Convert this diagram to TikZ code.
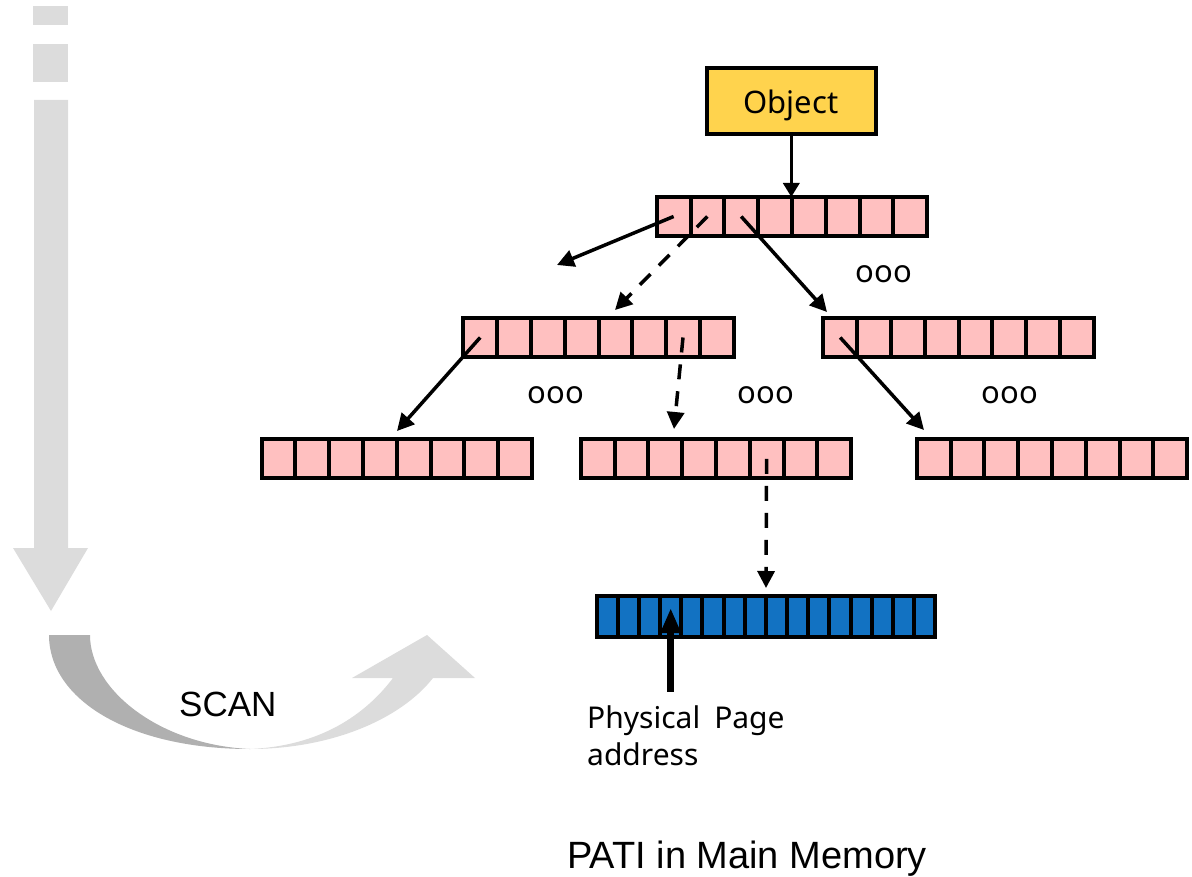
\documentclass[tikz,border=0pt]{standalone}
\usepackage{fontspec}
\newfontfamily\arialf{Liberation Sans}
\newfontfamily\gothf{Noto Sans}
\usetikzlibrary{arrows.meta}

\definecolor{cellpink}{HTML}{FFC0C0}
\definecolor{objyellow}{HTML}{FFD34D}
\definecolor{pageblue}{HTML}{1272C2}
\definecolor{scanlight}{HTML}{DCDCDC}
\definecolor{scandark}{HTML}{B0B0B0}

\tikzset{
  cell/.style={draw, line width=4pt, fill=cellpink, minimum width=33.8pt,
    minimum height=39pt, inner sep=0pt, outer sep=0pt},
  pagecell/.style={draw, line width=4pt, fill=pageblue, minimum width=21.15pt,
    minimum height=40.5pt, inner sep=0pt, outer sep=0pt},
  link/.style={line width=3.5pt, -{Triangle[length=17pt,width=17pt]}},
  dlink/.style={link, dash pattern=on 15pt off 12pt},
  dots/.style={font=\gothf\fontsize{31}{32}\selectfont, inner sep=0pt},
  label/.style={inner sep=0pt, anchor=base west},
}

% one table of eight entries: name prefix, left edge, vertical centre
\newcommand\pagetable[3]{%
  \foreach \i in {1,...,8}
    \node[cell] (#1\i) at ({#2+(\i-0.5)*33.8},#3) {};}

\begin{document}
\begin{tikzpicture}[x=1pt,y=-1pt]
\useasboundingbox (0,0) rectangle (1192,877);

% scan direction: dashed-in vertical arrow
\fill[scanlight] (33,6) rectangle (68,25);
\fill[scanlight] (33,44) rectangle (68,82);
\fill[scanlight] (34,100) -- (68,100) -- (68,548) -- (88,548) -- (51,611)
  -- (13,548) -- (34,548) -- cycle;

% curved return arrow
\fill[scandark] (49,635) -- (90,635) .. controls (90,690) and (160,745) .. (250,749)
  .. controls (130,749) and (49,700) .. (49,635) -- cycle;
\fill[scanlight] (250,749) .. controls (330,749) and (400,720) .. (433,678)
  -- (475,678) -- (427,635) -- (352,678) -- (393,678)
  .. controls (365,715) and (320,746) .. (250,749) -- cycle;
\node[label, font=\arialf\fontsize{35}{40}\selectfont] (scan) at (179,716) {SCAN};

% object and page tables
\node[draw, line width=4pt, fill=objyellow, minimum width=169pt, minimum height=65.5pt,
  inner sep=0pt] (obj) at (791.3,101.2) {};
\node[label, font=\gothf\fontsize{31}{34}\selectfont] (objtext) at (743.5,114) {Object};

\pagetable{top}{656.7}{216.5}
\pagetable{midl}{463.3}{337.5}
\pagetable{midr}{823.3}{337.5}
\pagetable{lowl}{261.6}{458.8}
\pagetable{lowm}{580.7}{458.8}
\pagetable{lowr}{916.7}{458.8}

\foreach \i in {1,...,16}
  \node[pagecell] (pg\i) at ({596.7+(\i-0.5)*21.15},616.3) {};

% omitted entries
\node[dots] (dtop) at (884,274.5) {ooo};
\node[dots] (dml) at (556,395) {ooo};
\node[dots] (dmm) at (766,395) {ooo};
\node[dots] (dmr) at (1010,395) {ooo};

% free ends of the pointers
\coordinate (tipA) at (557,265);
\coordinate (tipB) at (615,310);
\coordinate (tipC) at (827,312);
\coordinate (tipD) at (397,431);
\coordinate (tipE) at (674,429);
\coordinate (tipF) at (924,430);
\coordinate (tipG) at (766,588);

\draw[line width=3.5pt, -{Triangle[length=14pt,width=16pt]}] (obj.south) -- (obj.south |- top5.north);
\draw[link] (top1.center) -- (tipA);
\draw[dlink] (top2.center) -- (tipB);
\draw[link] (top3.center) -- (tipC);
\draw[link] (midl1.center) -- (tipD);
\draw[dlink] (midl7.center) -- (tipE);
\draw[link] (midr1.center) -- (tipF);
\draw[dlink] (lowm6.center) -- (tipG);

% physical page pointer
\coordinate (pbase) at (670.7,691.5);
\coordinate (ptip) at (670.7,608);
\draw[line width=7pt, -{Triangle[length=25pt,width=19pt]}] (pbase) -- (ptip);
\node[label, font=\gothf\fontsize{30}{37}\selectfont] (pp1) at (587,728) {Physical\hspace{14pt}Page};
\node[label, font=\gothf\fontsize{30}{37}\selectfont] (pp2) at (587,765) {address};

\node[label, font=\arialf\fontsize{38}{42}\selectfont] (title) at (567,868) {PATI in Main Memory};
\end{tikzpicture}
\end{document}
